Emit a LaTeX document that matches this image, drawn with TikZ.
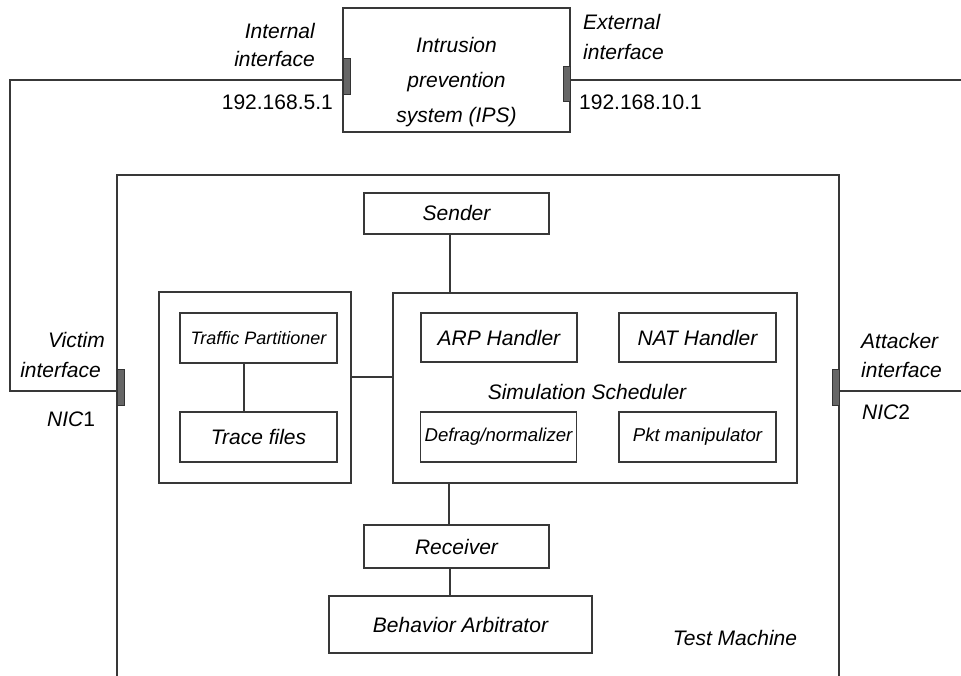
\documentclass[tikz,border=0pt]{standalone}
\usepackage{fontspec}
\setmainfont{Liberation Sans}
\newcommand\fsz[1]{\fontsize{#1}{#1}\selectfont}
\begin{document}
\begin{tikzpicture}[x=1pt,y=-1pt,
  wire/.style={draw=black!78, line width=1.4pt},
  box/.style={draw=black!78, line width=1.4pt, rectangle, inner sep=0pt, font=\fsz{21}\itshape},
  port/.style={draw=black!80, fill=black!60, line width=0.8pt, minimum width=7pt, minimum height=36pt, inner sep=0pt},
  lbl/.style={inner sep=0pt, font=\fsz{21}\itshape},
  num/.style={inner sep=0pt, font=\fsz{21}}]
\useasboundingbox (0,0) rectangle (961,676);

% IPS
\node[box, minimum width=227pt, minimum height=124pt] (ips) at (456.5,70) {};
\node[inner sep=0pt, align=center, font=\fontsize{21}{35}\selectfont\itshape] (ipstext) at (456.5,82) {Intrusion\\prevention\\system (IPS)};

% Test machine container
\draw[wire] (117,676) -- (117,175) -- (839,175) -- (839,676);
\node[lbl, anchor=base] (tmtext) at (735,645) {Test Machine};

% inner boxes
\node[box, minimum width=185pt, minimum height=41pt] (sender) at (456.5,213.5) {Sender};
\node[box, minimum width=192pt, minimum height=191pt] (group) at (255,387.5) {};
\node[box, minimum width=157pt, minimum height=50pt, font=\fsz{18}\itshape] (tp) at (258.5,338) {Traffic Partitioner};
\node[box, minimum width=157pt, minimum height=50pt] (trace) at (258.5,437) {Trace files};
\node[box, minimum width=404pt, minimum height=190pt] (sched) at (595,388) {};
\node[lbl] (schedtext) at (587,392) {Simulation Scheduler};
\node[box, minimum width=156pt, minimum height=49pt] (arp) at (499,337.5) {ARP Handler};
\node[box, minimum width=157pt, minimum height=49pt] (nat) at (697.5,337.5) {NAT Handler};
\node[box, minimum width=156pt, minimum height=50pt, font=\fsz{18.6}\itshape] (defrag) at (498.5,437) {Defrag/normalizer};
\node[box, minimum width=157pt, minimum height=50pt, font=\fsz{18.6}\itshape] (pkt) at (697.5,437) {Pkt manipulator};
\node[box, minimum width=185pt, minimum height=43pt] (recv) at (456.5,546.5) {Receiver};
\node[box, minimum width=263pt, minimum height=57pt] (behav) at (460.5,624.5) {Behavior Arbitrator};

% connectors inside
\coordinate (sx) at (450,0);
\coordinate (gy) at (0,377);
\coordinate (tx) at (244,0);
\coordinate (rx) at (449,0);
\draw[wire] (sender.south -| sx) -- (sched.north -| sx);
\draw[wire] (group.east |- gy) -- (sched.west |- gy);
\draw[wire] (tp.south -| tx) -- (trace.north -| tx);
\draw[wire] (sched.south -| rx) -- (recv.north -| rx);
\draw[wire] (recv.south -| sx) -- (behav.north -| sx);

% interface lines
\coordinate (tl) at (10,80);
\coordinate (bl) at (10,391);
\coordinate (tr) at (961,80);
\coordinate (mr) at (961,391);
\node[port] (portI) at (346.5,76) {};
\node[port, minimum height=35pt] (portE) at (566.5,83.5) {};
\node[port] (portV) at (120.5,387) {};
\node[port] (portA) at (835.5,387) {};
\draw[wire] (ips.west |- tl) -- (tl) -- (bl) -- (portV.west |- bl);
\draw[wire] (ips.east |- tr) -- (tr);
\draw[wire] (portA.east |- mr) -- (mr);
\node[port] at (portI) {};
\node[port, minimum height=35pt] at (portE) {};
\node[port] at (portV) {};
\node[port] at (portA) {};

% labels
\node[lbl, anchor=base east] (intl1) at (315,39) {Internal};
\node[lbl, anchor=base east] (intl2) at (315,67) {interface};
\node[num, anchor=base east] (ipI) at (333,110) {192.168.5.1};
\node[lbl, anchor=base west] (extl1) at (583,30) {External};
\node[lbl, anchor=base west] (extl2) at (583,60) {interface};
\node[num, anchor=base west] (ipE) at (579,110) {192.168.10.1};
\node[lbl, anchor=base east] (vic1) at (105,347) {Victim};
\node[lbl, anchor=base east] (vic2) at (101,377) {interface};
\node[lbl, anchor=base west] (nic1) at (47,426) {NIC\upshape 1};
\node[lbl, anchor=base west] (att1) at (861,348) {Attacker};
\node[lbl, anchor=base west] (att2) at (861,377) {interface};
\node[lbl, anchor=base west] (nic2) at (862,419) {NIC\upshape 2};
\end{tikzpicture}
\end{document}
